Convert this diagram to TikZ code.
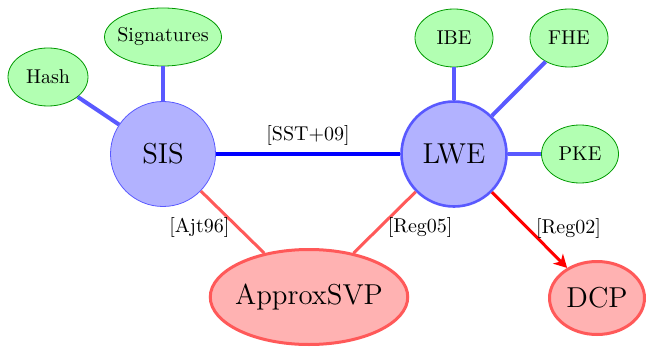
\documentclass[tikz,border=0pt]{standalone}
\usetikzlibrary{shapes.geometric,arrows.meta}
\begin{document}
\begin{tikzpicture}[x=0.5pt,y=-0.5pt,
  probc/.style={circle,fill=blue!30,draw=blue!65,minimum size=52.5pt,inner sep=0pt,font=\Large},
  appl/.style={ellipse,fill=green!30,draw=green!60!black,inner sep=0pt,minimum height=29pt,font=\normalsize},
  hard/.style={ellipse,fill=red!30,draw=red!65,line width=1.5pt,inner sep=0pt,font=\Large},
  bedge/.style={blue!65,line width=2pt},
  redge/.style={red!65,line width=1.5pt},
  lbl/.style={font=\normalsize,text=black}]
\useasboundingbox (0,0) rectangle (646,347);
\node[probc] (sis) at (163,154) {SIS};
\node[probc,line width=1.3pt] (lwe) at (454,154) {LWE};
\node[appl,minimum width=40pt] (hash) at (48,77) {Hash};
\node[appl,minimum width=58.5pt,inner xsep=-2.5pt] (sig) at (163,37) {Signatures};
\node[appl,minimum width=39pt] (ibe) at (454,38) {IBE};
\node[appl,minimum width=39pt] (fhe) at (569,38) {FHE};
\node[appl,minimum width=38.5pt] (pke) at (580,154) {PKE};
\node[hard,minimum width=98pt,minimum height=47.5pt,inner xsep=-2pt] (svp) at (309,297) {ApproxSVP};
\node[hard,minimum width=47.5pt,minimum height=36.5pt] (dcp) at (597,298) {DCP};
\draw[bedge] (sis) -- (hash);
\draw[bedge] (sis) -- (sig);
\draw[bedge] (lwe) -- (ibe);
\draw[bedge] (lwe) -- (fhe);
\draw[bedge] (lwe) -- (pke);
\draw[blue,line width=2pt] (sis) -- node[lbl,above,pos=0.5] {[SST+09]} (lwe);
\draw[redge] (sis) -- node[lbl,left,pos=0.58] {[Ajt96]} (svp);
\draw[redge] (lwe) -- node[lbl,right,pos=0.58] {[Reg05]} (svp);
\draw[red,line width=1.5pt,-{Stealth[length=6.5pt,width=7pt,inset=2pt]}] (lwe) -- node[lbl,right,pos=0.48] {[Reg02]} (dcp);
\end{tikzpicture}
\end{document}
